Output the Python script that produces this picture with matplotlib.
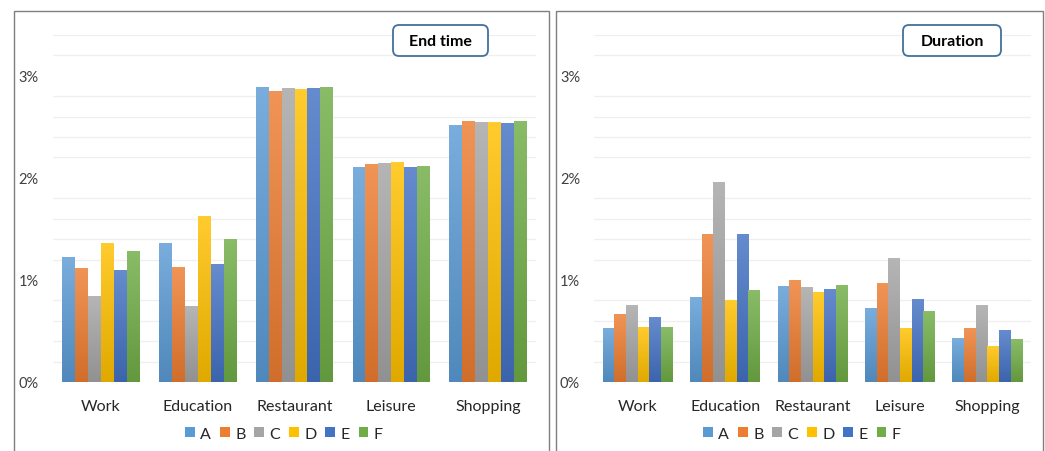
import numpy as np
import matplotlib
matplotlib.use("Agg")
import matplotlib.pyplot as plt
import matplotlib.transforms as mtransforms
from matplotlib.patches import Rectangle, FancyBboxPatch, Patch
from matplotlib.colors import to_rgb

plt.rcParams['font.family'] = ['Lato', 'DejaVu Sans']

# data (percent)
categories = ["Work", "Education", "Restaurant", "Leisure", "Shopping"]
series = ["A", "B", "C", "D", "E", "F"]
colors = ["#5B9BD5", "#ED7D31", "#A5A5A5", "#FFC000", "#4472C4", "#70AD47"]

# rows = series A..F, columns = categories
end_time = [
    [1.22, 1.36, 2.89, 2.10, 2.51],
    [1.11, 1.12, 2.85, 2.13, 2.55],
    [0.84, 0.74, 2.88, 2.14, 2.54],
    [1.36, 1.62, 2.87, 2.15, 2.54],
    [1.09, 1.15, 2.88, 2.10, 2.53],
    [1.28, 1.40, 2.89, 2.11, 2.55],
]
duration = [
    [0.52, 0.83, 0.94, 0.72, 0.43],
    [0.66, 1.45, 0.99, 0.97, 0.52],
    [0.75, 1.95, 0.93, 1.21, 0.75],
    [0.53, 0.80, 0.88, 0.52, 0.35],
    [0.63, 1.45, 0.91, 0.81, 0.50],
    [0.53, 0.90, 0.95, 0.69, 0.42],
]

W, H = 1045, 452


def mix(c, other, t):
    c = np.array(to_rgb(c))
    return c * (1 - t) + np.array(other) * t


def gradient_bars(ax, bars, color):
    light = mix(color, (1, 1, 1), 0.18)
    dark = mix(color, (0, 0, 0), 0.12)
    grad = np.linspace(0, 1, 64)[:, None, None]
    img = dark * (1 - grad) + light * grad
    for b in bars:
        x0, y0 = b.get_xy()
        ax.imshow(img, extent=[x0, x0 + b.get_width(), y0, y0 + b.get_height()],
                  origin='lower', aspect='auto', zorder=2, interpolation='bilinear')
        b.set_facecolor('none')


def draw_panel(ax, values, title, box_px, legend_x):
    x = np.arange(len(categories))
    width = 0.8 / len(series)
    for i, (name, col) in enumerate(zip(series, colors)):
        bars = ax.bar(x + (i - 2.5) * width, values[i], width, color=col,
                      linewidth=0, zorder=2)
        gradient_bars(ax, bars, col)
    ax.set_xlim(-0.5, len(categories) - 0.5)
    ax.set_ylim(0, 3.4)
    ax.set_xticks(x)
    ax.set_xticklabels(categories, fontsize=11.5, color='#262626')
    ax.set_yticks([0, 1, 2, 3])
    ax.set_yticklabels(["0%", "1%", "2%", "3%"], fontsize=10.5, color='#404040')
    minor = [v for v in np.arange(0.2, 3.41, 0.2) if abs(v - round(v)) > 0.01]
    ax.set_yticks(minor, minor=True)
    ax.grid(which='minor', axis='y', color='#EFEFEF', linewidth=0.9, zorder=0)
    ax.tick_params(which='both', length=0)
    ax.tick_params(axis='x', pad=12.5)
    ax.tick_params(axis='y', pad=10)
    for s in ax.spines.values():
        s.set_visible(False)

    handles = [Patch(facecolor=c, edgecolor='none') for c in colors]
    fig.legend(handles, series, ncol=6, loc='center',
               bbox_to_anchor=(legend_x / W, (H - 435) / H), frameon=False,
               fontsize=11.5, handlelength=0.6, handleheight=0.6,
               handletextpad=0.35, columnspacing=0.55, labelcolor='#262626')

    x0, y0, bw, bh = box_px
    fig.add_artist(FancyBboxPatch((x0, y0), bw, bh,
                                  boxstyle="round,pad=0,rounding_size=6",
                                  transform=px, facecolor='white',
                                  edgecolor='#41719C', linewidth=1.3, zorder=5))
    fig.text(x0 + bw / 2, y0 + bh / 2 + 0.5, title, transform=px, ha='center',
             va='center', fontsize=11.5, fontweight='bold', color='black', zorder=6)


fig = plt.figure(figsize=(W / 100, H / 100), dpi=100)
# pixel coordinates measured from the top-left corner
px = mtransforms.Affine2D().scale(1 / W, -1 / H).translate(0, 1) + fig.transFigure

bottom = (H - 383) / H
height = (383 - 36) / H
ax1 = fig.add_axes([52.6 / W, bottom, (536.4 - 52.6) / W, height])
ax2 = fig.add_axes([594 / W, bottom, (1031 - 594) / W, height])

draw_panel(ax1, end_time, "End time", (393, 26, 95, 31), 284)
draw_panel(ax2, duration, "Duration", (903, 26, 98, 31), 802)

# panel frames
fig.add_artist(Rectangle((13.5, 11.5), 535, 460, transform=px, fill=False,
                         edgecolor='#7F7F7F', linewidth=1.0))
fig.add_artist(Rectangle((555.5, 11.5), 487.5, 460, transform=px, fill=False,
                         edgecolor='#7F7F7F', linewidth=1.0))

fig.savefig("out.png", dpi=100)
